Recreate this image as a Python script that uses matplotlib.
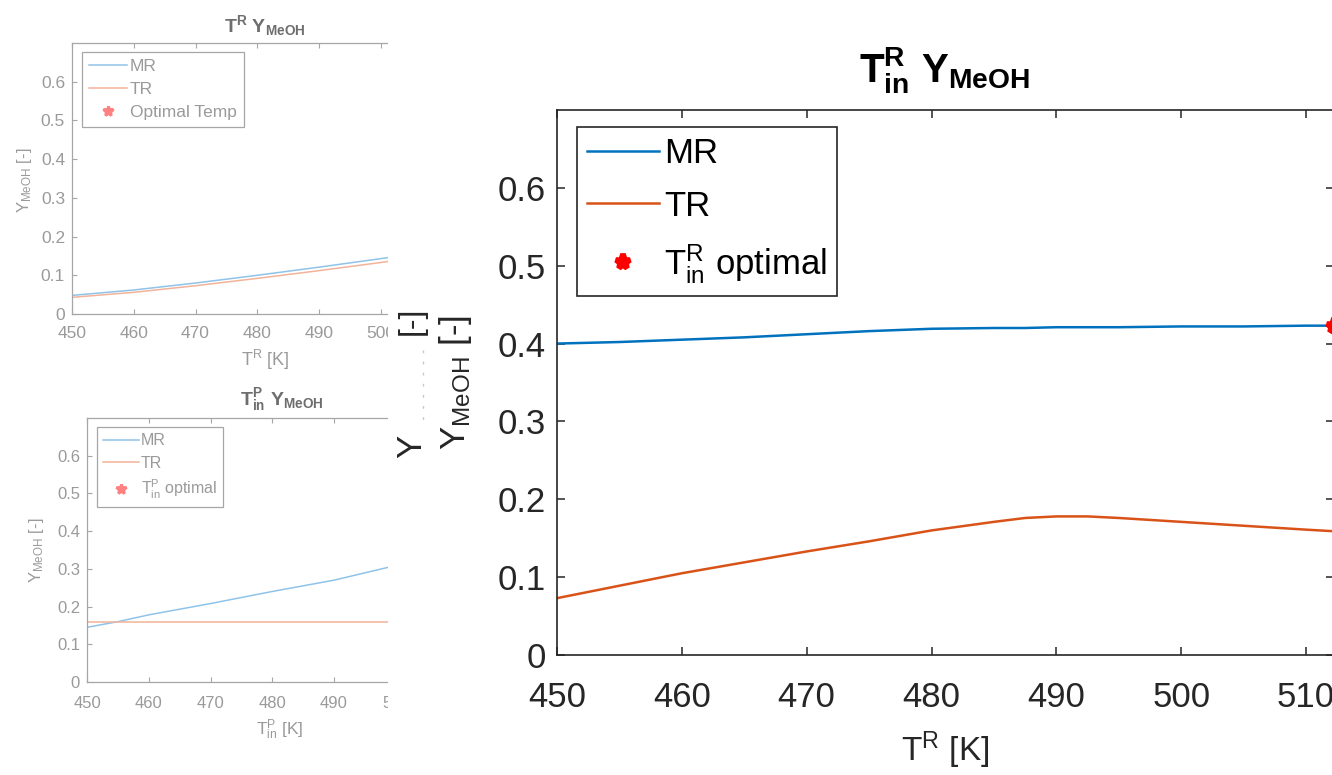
import numpy as np
import matplotlib
matplotlib.use('Agg')
from matplotlib import pyplot as plt
from matplotlib.patches import Rectangle
from matplotlib.lines import Line2D

plt.rcParams['font.family'] = ['Liberation Sans', 'DejaVu Sans']
plt.rcParams['mathtext.fontset'] = 'custom'
plt.rcParams['mathtext.rm'] = 'Liberation Sans'
plt.rcParams['mathtext.it'] = 'Liberation Sans'
plt.rcParams['mathtext.bf'] = 'Liberation Sans:bold'
plt.rcParams['mathtext.default'] = 'regular'

W, H = 1332, 775

# --- data ---
# big panel: inlet temperature of reactor
t_big = [450, 455, 460, 465, 470, 475, 480, 485, 487.5, 490, 492.5, 495, 500, 505, 510, 512.2]
mr_big = [0.400, 0.402, 0.405, 0.408, 0.412, 0.416, 0.419, 0.420, 0.420, 0.421, 0.421, 0.421,
          0.422, 0.422, 0.423, 0.423]
tr_big = [0.073, 0.089, 0.105, 0.119, 0.133, 0.146, 0.160, 0.171, 0.176, 0.178, 0.178, 0.176,
          0.171, 0.166, 0.161, 0.159]
opt_big_t = 512.2
opt_big_y = 0.423

# top-left panel
t_tl = [450, 460, 470, 480, 490, 500, 510, 512.5]
mr_tl = [0.048, 0.062, 0.080, 0.100, 0.121, 0.143, 0.166, 0.171]
tr_tl = [0.043, 0.056, 0.073, 0.092, 0.112, 0.133, 0.155, 0.160]
opt_tl_t = 512.5
opt_tl_y = 0.171

# bottom-left panel
t_bl = [450, 455, 460, 470, 480, 490, 499, 510, 512.5]
mr_bl = [0.145, 0.160, 0.178, 0.208, 0.240, 0.270, 0.305, 0.345, 0.355]
tr_bl = [0.158, 0.158, 0.158, 0.158, 0.158, 0.158, 0.158, 0.158, 0.158]
opt_bl_t = 512.5
opt_bl_y = 0.158

xticks = [450, 460, 470, 480, 490, 500, 510]
yticks = [0, 0.1, 0.2, 0.3, 0.4, 0.5, 0.6]
ytick_labels = ['0', '0.1', '0.2', '0.3', '0.4', '0.5', '0.6']


def rect(l, t, r, b):
    # pixel box -> figure fraction
    return [l / W, 1 - b / H, (r - l) / W, (b - t) / H]


def pt(x, y):
    return (x / W, 1 - y / H)


fig = plt.figure(figsize=(W / 100, H / 100), dpi=100)

# faded small panels
grey_ax = '#a6a6a6'
grey_txt = '#9a9a9a'
grey_title = '#6e6e6e'
blue_f = '#8fc3ea'
orange_f = '#f2b39a'
red_f = '#ff8080'


def small_panel(box, t, mr, tr, opt_t, opt_y, opt_label, legend_xy, fs_tick, fs_leg, xpad):
    ax = fig.add_axes(rect(*box), zorder=0)
    ax.plot(t, mr, color=blue_f, lw=1.1, label='MR')
    ax.plot(t, tr, color=orange_f, lw=1.1, label='TR')
    ax.plot([opt_t], [opt_y], ls='none', marker='*', ms=7, mew=2,
            color=red_f, label=opt_label)
    ax.set_xlim(450, 512.5)
    ax.set_ylim(0, 0.7)
    ax.set_xticks(xticks)
    ax.set_yticks(yticks)
    ax.set_yticklabels(ytick_labels)
    ax.tick_params(direction='in', top=True, right=True, length=3.5,
                   width=0.8, colors=grey_ax, labelcolor=grey_txt,
                   labelsize=fs_tick, pad=5)
    ax.tick_params(axis='x', pad=xpad)
    for s in ax.spines.values():
        s.set_color(grey_ax)
        s.set_linewidth(0.9)
    leg = ax.legend(loc='upper left', bbox_to_anchor=pt(*legend_xy),
                    bbox_transform=fig.transFigure, fontsize=fs_leg,
                    fancybox=False, edgecolor=grey_ax, framealpha=1,
                    handlelength=2.2, handletextpad=0.15, labelspacing=0.45,
                    borderpad=0.4, borderaxespad=0)
    for txt in leg.get_texts():
        txt.set_color(grey_txt)
    leg.get_frame().set_linewidth(0.9)
    return ax


small_panel((72, 43, 458, 314), t_tl, mr_tl, tr_tl, opt_tl_t, opt_tl_y,
            'Optimal Temp', (82, 52), 12.5, 12.5, 9)
fig.text(*pt(265, 26), r'$\mathbf{T^R\ Y_{MeOH}}$', ha='center', va='center',
         fontsize=14, color=grey_title)
fig.text(*pt(265, 360), r'$T^R$ [K]', ha='center', va='center',
         fontsize=13, color=grey_txt)
fig.text(*pt(24, 180), r'$Y_{MeOH}$ [-]', ha='center', va='center',
         fontsize=12, color=grey_txt, rotation=90)

small_panel((87, 418, 473, 682), t_bl, mr_bl, tr_bl, opt_bl_t, opt_bl_y,
            r'$T^P_{in}$ optimal', (97, 427), 12, 11.5, 10)
fig.text(*pt(282, 400), r'$\mathbf{T^P_{in}\ Y_{MeOH}}$', ha='center',
         va='center', fontsize=14, color=grey_title)
fig.text(*pt(280, 730), r'$T^P_{in}$ [K]', ha='center', va='center',
         fontsize=12.5, color=grey_txt)
fig.text(*pt(37, 550), r'$Y_{MeOH}$ [-]', ha='center', va='center',
         fontsize=12, color=grey_txt, rotation=90)

# the big window sits on top of the small ones
fig.add_artist(Rectangle(pt(388, H), (W - 388) / W, 1, transform=fig.transFigure,
                         facecolor='white', edgecolor='none', zorder=1))

# big panel
blue = '#0072BD'
orange = '#D95319'
ax = fig.add_axes(rect(557, 110, 1333.5, 655), zorder=2)
ax.patch.set_alpha(0)
ax.plot(t_big, mr_big, color=blue, lw=1.8, label='MR')
ax.plot(t_big, tr_big, color=orange, lw=1.8, label='TR')
ax.plot([opt_big_t], [opt_big_y], ls='none', marker='*', ms=11, mew=4,
        color='red', label=r'$T^R_{in}$ optimal', clip_on=False)
ax.set_xlim(450, 512.2)
ax.set_ylim(0, 0.7)
ax.set_xticks(xticks)
ax.set_yticks(yticks)
ax.set_yticklabels(ytick_labels)
ax.tick_params(direction='in', top=True, right=True, length=6, width=1.1,
               colors='#262626', labelsize=25, pad=8)
ax.tick_params(axis='x', pad=19)
for s in ax.spines.values():
    s.set_color('#262626')
    s.set_linewidth(1.2)
leg = ax.legend(loc='upper left', bbox_to_anchor=pt(577, 127),
                bbox_transform=fig.transFigure, fontsize=25, fancybox=False,
                edgecolor='#262626', framealpha=1, handlelength=2.05,
                handletextpad=0.15, labelspacing=0.55, borderpad=0.3,
                borderaxespad=0)
leg.get_frame().set_linewidth(1.2)

fig.text(*pt(945, 70), r'$\mathbf{T^R_{in}\ Y_{MeOH}}$', ha='center',
         va='center', fontsize=29, color='black', zorder=3)
fig.text(*pt(945, 750), r'$T^R$ [K]', ha='center', va='center',
         fontsize=24, color='#262626', zorder=3)
fig.text(*pt(455, 383), r'$Y_{MeOH}$ [-]', ha='center', va='center',
         fontsize=25, color='#262626', rotation=90, zorder=3)

# leftover of an older y label
fig.text(*pt(412, 446), 'Y', ha='center', va='center', fontsize=25,
         color='#262626', rotation=90, zorder=3)
fig.text(*pt(412, 321), '[-]', ha='center', va='center', fontsize=23,
         color='#262626', rotation=90, zorder=3)
fig.add_artist(Line2D([423 / W, 423 / W], [1 - 350 / H, 1 - 427 / H],
                      transform=fig.transFigure, color='#c8c8c8', lw=1,
                      ls=(0, (2, 6)), zorder=3))

fig.savefig('out.png', dpi=100)
